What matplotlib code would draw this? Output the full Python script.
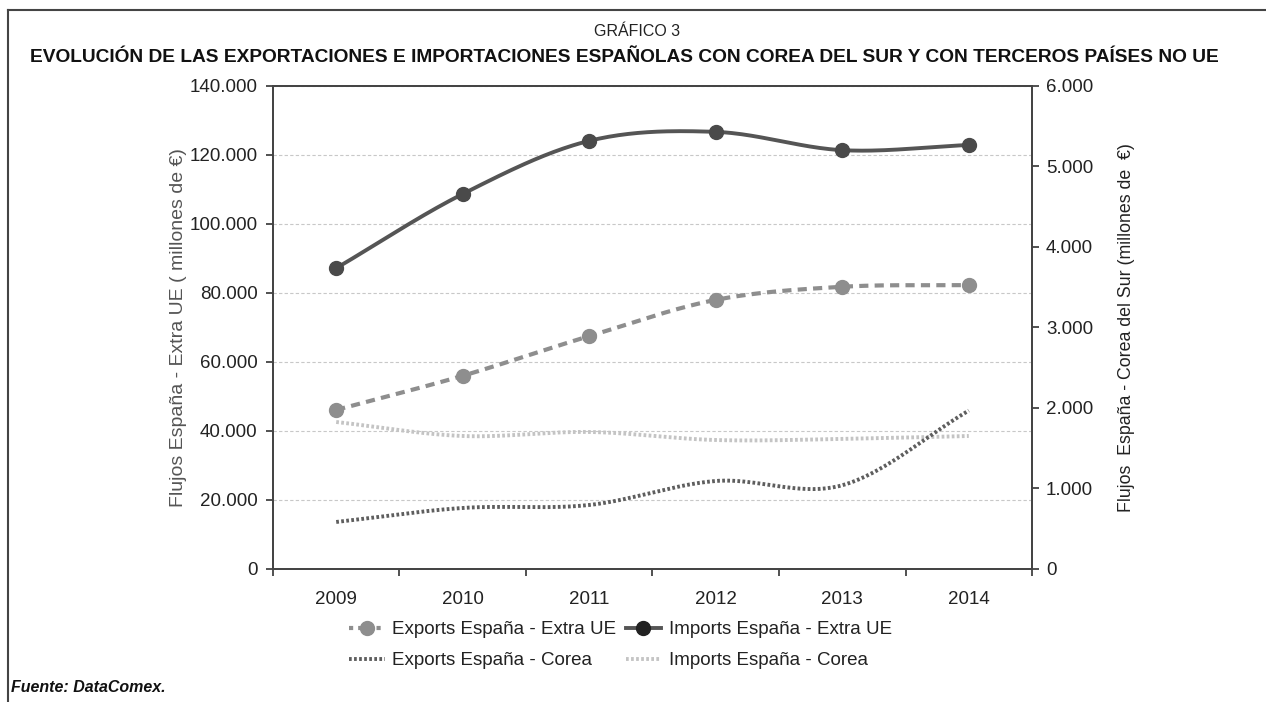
import numpy as np
import matplotlib.pyplot as plt
from matplotlib.lines import Line2D

plt.rcParams['font.family'] = ['Liberation Sans', 'DejaVu Sans']

# data (millones de euros)
years = ['2009', '2010', '2011', '2012', '2013', '2014']
exports_extra_ue = [46100, 56000, 67500, 78000, 81800, 82300]
imports_extra_ue = [87200, 108700, 124100, 126700, 121400, 122900]
exports_corea = [584, 758, 795, 1093, 1040, 1968]
imports_corea = [1826, 1652, 1702, 1602, 1615, 1652]


def smooth(xs, ys, n=40):
    # catmull-rom, similar to excel "smoothed line"
    xs = np.asarray(xs, float)
    ys = np.asarray(ys, float)
    px = np.concatenate([[2 * xs[0] - xs[1]], xs, [2 * xs[-1] - xs[-2]]])
    py = np.concatenate([[2 * ys[0] - ys[1]], ys, [2 * ys[-1] - ys[-2]]])
    outx, outy = [], []
    for i in range(1, len(px) - 2):
        t = np.linspace(0, 1, n)
        for p, out in ((px, outx), (py, outy)):
            p0, p1, p2, p3 = p[i - 1], p[i], p[i + 1], p[i + 2]
            out.extend(0.5 * ((2 * p1) + (-p0 + p2) * t
                              + (2 * p0 - 5 * p1 + 4 * p2 - p3) * t ** 2
                              + (-p0 + 3 * p1 - 3 * p2 + p3) * t ** 3))
    return np.array(outx), np.array(outy)


x = np.arange(len(years))

fig = plt.figure(figsize=(12.66, 7.02), dpi=100)
ax = fig.add_axes([0.2156, 0.1895, 0.5996, 0.6880])
ax2 = ax.twinx()
ax3 = ax.twinx()
ax3.axis('off')

c_imp = '#555555'
c_exp = '#8e8e8e'
c_expk = '#5e5e5e'
c_impk = '#c4c4c4'

ax.set_ylim(0, 140000)
ax3.set_ylim(0, 140000)
ax.set_yticks(np.arange(0, 140001, 20000))
ax.set_yticklabels(['0' if v == 0 else f'{v:,}'.replace(',', '.') for v in range(0, 140001, 20000)])
ax.grid(axis='y', color='#c8c8c8', linestyle=(0, (3, 2)), linewidth=0.8)
ax.set_axisbelow(True)

ax2.set_ylim(0, 6000)
ax2.set_yticks(np.arange(0, 6001, 1000))
ax2.set_yticklabels(['0' if v == 0 else f'{v:,}'.replace(',', '.') for v in range(0, 6001, 1000)])

ax.set_xlim(-0.5, len(years) - 0.5)
ax.set_xticks(np.arange(-0.5, len(years), 1))
ax.set_xticklabels([])
ax.set_xticks(x, minor=True)
ax.set_xticklabels(years, minor=True)
ax.tick_params(axis='x', which='minor', length=0, pad=16, labelsize=13.5, labelcolor='#222222')
ax.tick_params(axis='x', which='major', length=5, width=1.2, color='#333333')
ax.tick_params(axis='y', length=5, width=1.2, color='#333333', pad=6, labelsize=13.5, labelcolor='#222222')
ax2.tick_params(axis='y', length=5, width=1.2, color='#333333', pad=5, labelsize=13.5, labelcolor='#222222')

for a in (ax, ax2):
    for s in a.spines.values():
        s.set_color('#444444')
        s.set_linewidth(1.3)

# series
sx, sy = smooth(x, imports_corea)
ax2.plot(sx, sy, color=c_impk, linewidth=2.8, linestyle=(0, (0.7, 0.6)), solid_capstyle='butt')
sx, sy = smooth(x, exports_corea)
ax2.plot(sx, sy, color=c_expk, linewidth=2.8, linestyle=(0, (0.7, 0.6)), solid_capstyle='butt')

sx, sy = smooth(x, exports_extra_ue)
ax3.plot(sx, sy, color=c_exp, linewidth=3, linestyle=(0, (2.2, 1.5)))
ax3.plot(x, exports_extra_ue, 'o', color=c_exp, markersize=10)
sx, sy = smooth(x, imports_extra_ue)
ax3.plot(sx, sy, color=c_imp, linewidth=2.8)
ax3.plot(x, imports_extra_ue, 'o', color='#4a4a4a', markersize=10)

ax.set_ylabel('Flujos España - Extra UE ( millones de €)', fontsize=14, color='#555555', labelpad=2)
ax2.set_ylabel('Flujos  España - Corea del Sur (millones de  €)', fontsize=12.8, color='#222222', labelpad=18)

# legend
handles = [
    Line2D([], [], color=c_exp, linewidth=3, linestyle=(0, (1.0, 1.2)), marker='o', markersize=10),
    Line2D([], [], color=c_expk, linewidth=2.8, linestyle=(0, (0.7, 0.6))),
    Line2D([], [], color=c_imp, linewidth=2.8, marker='o', markersize=10, markerfacecolor='#222222',
           markeredgecolor='#222222'),
    Line2D([], [], color=c_impk, linewidth=2.8, linestyle=(0, (0.7, 0.6))),
]
labels = ['Exports España - Extra UE', 'Exports España - Corea',
          'Imports España - Extra UE', 'Imports España - Corea']
fig.legend(handles, labels, ncol=2, loc='center', bbox_to_anchor=(0.490, 0.081), frameon=False,
           fontsize=13.5, handlelength=1.9, columnspacing=0.5, labelspacing=0.75, handletextpad=0.4,
           labelcolor='#222222')

fig.text(0.503, 0.955, 'GRÁFICO 3', ha='center', va='center', fontsize=11.5, color='#222222')
fig.text(0.4935, 0.918, 'EVOLUCIÓN DE LAS EXPORTACIONES E IMPORTACIONES ESPAÑOLAS CON COREA DEL SUR Y CON TERCEROS PAÍSES NO UE',
         ha='center', va='center', fontsize=13.8, fontweight='bold', color='#111111')
fig.text(0.009, 0.02, 'Fuente: DataComex.', ha='left', va='center', fontsize=11.5,
         fontweight='bold', fontstyle='italic', color='#111111')

# outer frame (top and left)
fig.add_artist(Line2D([0.0064, 1.0], [0.986, 0.986], color='#444444', linewidth=1.5))
fig.add_artist(Line2D([0.0064, 0.0064], [0.0, 0.986], color='#444444', linewidth=1.5))

fig.savefig('out.png', dpi=100)
